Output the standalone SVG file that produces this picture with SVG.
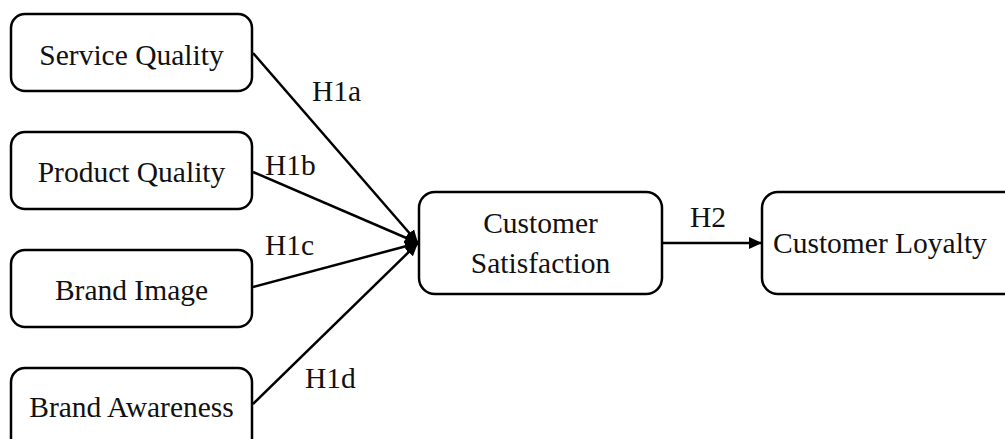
<svg xmlns="http://www.w3.org/2000/svg" width="1005" height="439" viewBox="0 0 1005 439">
<style>
.box{fill:#fff;stroke:#000;stroke-width:2.5}
.t{font-family:'Times New Roman','Liberation Serif',Tinos,'Noto Serif','DejaVu Serif',serif;font-size:29.5px;fill:#111}
.c{text-anchor:middle}
.e{stroke:#000;stroke-width:2.5;fill:none}
</style>
<defs>
<marker id="ah" markerUnits="userSpaceOnUse" markerWidth="14" markerHeight="14" refX="13" refY="7" orient="auto">
<path d="M0,1 L13,7 L0,13 z" fill="#000"/>
</marker>
</defs>
<g id="connectors">
<line class="e" x1="253" y1="53" x2="418" y2="243" marker-end="url(#ah)"/>
<line class="e" x1="253" y1="172" x2="418" y2="243" marker-end="url(#ah)"/>
<line class="e" x1="253" y1="287" x2="418" y2="243" marker-end="url(#ah)"/>
<line class="e" x1="253" y1="404" x2="418" y2="243" marker-end="url(#ah)"/>
<line class="e" x1="662" y1="243" x2="762" y2="243" marker-end="url(#ah)"/>
<text class="t" x="312" y="101">H1a</text>
<text class="t" x="265" y="175">H1b</text>
<text class="t" x="265" y="255">H1c</text>
<text class="t" x="305" y="388">H1d</text>
<text class="t" x="690" y="227">H2</text>
</g>
<g id="service-quality">
<rect class="box" x="11" y="14" width="241" height="77" rx="14"/>
<text class="t c" x="131.5" y="65">Service Quality</text>
</g>
<g id="product-quality">
<rect class="box" x="11" y="132" width="241" height="77" rx="14"/>
<text class="t c" x="131.5" y="182">Product Quality</text>
</g>
<g id="brand-image">
<rect class="box" x="11" y="250" width="241" height="77" rx="14"/>
<text class="t c" x="131.5" y="300">Brand Image</text>
</g>
<g id="brand-awareness">
<rect class="box" x="11" y="368" width="241" height="90" rx="14"/>
<text class="t c" x="131.5" y="417">Brand Awareness</text>
</g>
<g id="customer-satisfaction">
<rect class="box" x="419" y="192" width="243" height="102" rx="16"/>
<text class="t c" x="540.5" y="233">Customer</text>
<text class="t c" x="540.5" y="273">Satisfaction</text>
</g>
<g id="customer-loyalty">
<rect class="box" x="762" y="192" width="260" height="102" rx="16"/>
<text class="t" x="773" y="253">Customer Loyalty</text>
</g>
</svg>
